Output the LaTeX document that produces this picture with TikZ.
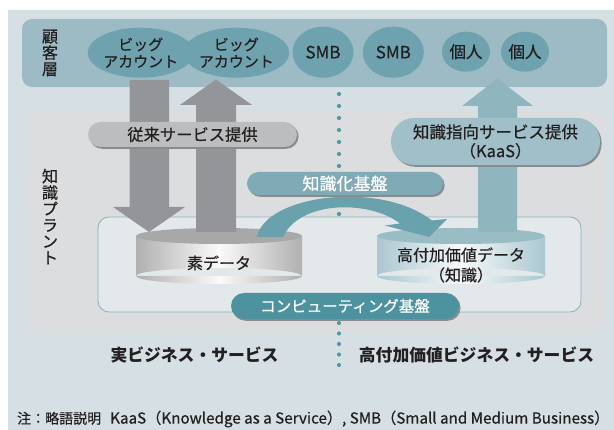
\documentclass[tikz,border=0pt]{standalone}
\usepackage{fontspec}
\setmainfont{Noto Sans CJK JP}[UprightFeatures={FakeBold=0.5}]
\usetikzlibrary{shapes.geometric,shadows}
\definecolor{bgout}{HTML}{D6E0E4}
\definecolor{bandc}{HTML}{9CBBC4}
\definecolor{ellc}{HTML}{6EA2AE}
\definecolor{plantc}{HTML}{DCDDDE}
\definecolor{innerc}{HTML}{E3E8EB}
\definecolor{innerb}{HTML}{86B3BF}
\definecolor{grayarrow}{HTML}{939598}
\definecolor{pillgray}{HTML}{BCBDBF}
\definecolor{shadowc}{HTML}{8A8B8D}
\definecolor{kaasarrow}{HTML}{8FB5BF}
\definecolor{kaaspill}{HTML}{A0BFC8}
\definecolor{kibanc}{HTML}{80ABB6}
\definecolor{arcc}{HTML}{69A1AD}
\definecolor{compc}{HTML}{4D939F}
\definecolor{dotc}{HTML}{4E9AA6}
\definecolor{txtc}{HTML}{231F20}
\begin{document}
\begin{tikzpicture}[x=1pt,y=-1pt,
  every node/.style={text=txtc},
  cust/.style={ellipse, fill=ellc, inner sep=0pt, align=center, font=\fontsize{15}{17}\selectfont},
  pill/.style={rectangle, inner sep=0pt, align=center,
    drop shadow={shadow xshift=1.6pt, shadow yshift=-1.8pt, fill=shadowc, opacity=1}},
  vlabel/.style={align=center, inner sep=0pt, font=\fontsize{16}{16.3}\selectfont},
  cyllabel/.style={align=center, inner sep=0pt, font=\fontsize{16}{20}\selectfont},
  bottomlabel/.style={inner sep=0pt, font=\fontsize{16.8}{20}\selectfont\bfseries}]
\useasboundingbox (0,0) rectangle (614,430);
\fill[white] (0,0) rectangle (614,430);
\fill[bgout] (7.5,10) rectangle (614,430);
% customer band
\fill[bandc, rounded corners=10pt] (22,19) rectangle (607,87);
\node[vlabel] (kokyaku) at (50,53) {顧\\客\\層};
\node[cust, minimum width=80pt, minimum height=50pt] (big1) at (140.7,52.7) {ビッグ\\アカウント};
\node[cust, minimum width=80pt, minimum height=50pt] (big2) at (236.3,52.7) {ビッグ\\アカウント};
\node[cust, minimum width=61pt, minimum height=51pt, font=\fontsize{17}{20}\selectfont] (smb1) at (323,52.2) {SMB};
\node[cust, minimum width=61pt, minimum height=51pt, font=\fontsize{17}{20}\selectfont] (smb2) at (393.3,52.2) {SMB};
\node[cust, minimum width=48pt, minimum height=40pt, font=\fontsize{16.5}{20}\selectfont] (kojin1) at (466,51.7) {個人};
\node[cust, minimum width=48pt, minimum height=40pt, font=\fontsize{16.5}{20}\selectfont] (kojin2) at (525,51.7) {個人};
% knowledge plant area
\fill[plantc, rounded corners=9pt] (25,112) rectangle (603,333);
\node[vlabel] (plant) at (50,216.5) {知\\識\\プ\\ラ\\ン\\ト};
% dotted divider (upper part)
\foreach \yy in {94,106,...,214} \fill[dotc] (339,\yy) circle (2.1pt);
% inner box
\draw[innerb, fill=innerc, line width=0.8pt, rounded corners=11pt] (98,217) rectangle (581,312);
% left cylinder
\shade[left color=gray!62, right color=gray!62, middle color=white!96!gray]
  (136,236) rectangle (302,276) (219,276) ellipse [x radius=83, y radius=8];
\fill[gray!68] (219,236) ellipse [x radius=83, y radius=8];
\node[cyllabel] (sodata) at (219,263) {素データ};
% right cylinder
\shade[left color=kaasarrow!75, right color=kaasarrow!75, middle color=white!92!kaasarrow]
  (377,236) rectangle (545,276) (461,276) ellipse [x radius=84, y radius=8];
\fill[kaasarrow!90] (461,236) ellipse [x radius=84, y radius=8];
\node[cyllabel] (kachi) at (461,265) {高付加価値データ\\（知識）};
% gray arrows
\fill[grayarrow] (129.5,80) -- (169,80) -- (169,207) -- (185,207) -- (149,232) -- (113,207) -- (129.5,207) -- cycle;
\fill[grayarrow] (196,232) -- (236,232) -- (236,105) -- (252,105) -- (216,79.5) -- (180,105) -- (196,105) -- cycle;
% KaaS arrow
\fill[kaasarrow] (478,232) -- (517,232) -- (517,106) -- (533,106) -- (497.5,78.5) -- (462,106) -- (478,106) -- cycle;
% pills
\node[pill, fill=pillgray, minimum width=209pt, minimum height=25pt, rounded corners=12.5pt,
  font=\fontsize{16.3}{19}\selectfont] (juurai) at (192.5,134.5) {従来サービス提供};
\node[pill, fill=kaaspill, minimum width=209pt, minimum height=47pt, rounded corners=23pt,
  font=\fontsize{16.5}{19}\selectfont] (kaas) at (495.5,141.5) {知識指向サービス提供\\（KaaS）};
% curved arrow
\fill[arcc] (257,237) .. controls (265,195) and (380,180) .. (432,220.5)
  -- (447,219) -- (429,237) -- (385,225.5) -- (400,223.5)
  .. controls (370,200) and (300,200) .. (283,237) -- cycle;
\node[pill, fill=kibanc, minimum width=196pt, minimum height=23pt, rounded corners=11.5pt,
  text=white, font=\fontsize{17}{19}\selectfont] (kiban) at (345,183.5) {知識化基盤};
% computing pill
\node[pill, fill=compc, minimum width=228pt, minimum height=26pt, rounded corners=13pt,
  text=white, font=\fontsize{15.5}{19}\selectfont] (comp) at (345,306) {コンピューティング基盤};
% dotted divider (lower part)
\foreach \yy in {323,333.5,344,354.5,365} \fill[dotc] (339,\yy) circle (2.1pt);
% bottom labels
\node[bottomlabel] (jitsu) at (194.5,355) {実ビジネス・サービス};
\node[bottomlabel] (koufuka) at (476.5,355) {高付加価値ビジネス・サービス};
% note
\node[anchor=west, inner sep=0pt, font=\fontsize{14}{16}\selectfont] (note) at (17,419)
  {注：略語説明\hspace{9pt}{\fontsize{15.2}{16}\selectfont KaaS（Knowledge as a Service）, SMB（Small and Medium Business）}};
\end{tikzpicture}
\end{document}
